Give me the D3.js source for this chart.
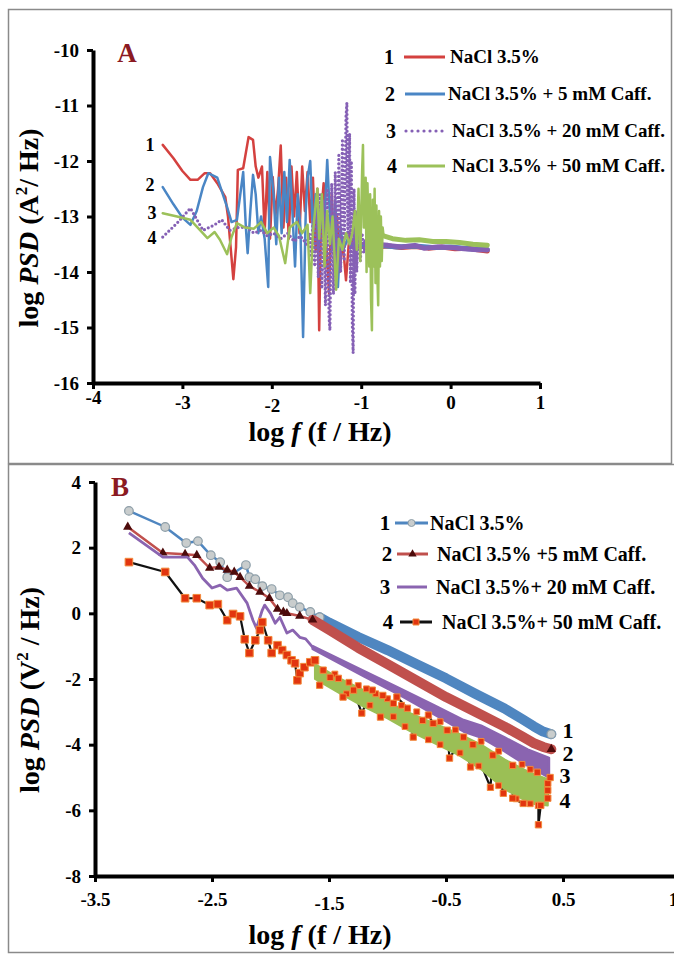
<!DOCTYPE html>
<html>
<head>
<meta charset="utf-8">
<script src="https://cdn.jsdelivr.net/npm/d3@7/dist/d3.min.js"></script>
<style>
  body { margin: 0; background: #fff; }
  svg text { font-family: "Liberation Serif", "Times New Roman", serif; font-weight: bold; fill: #000; }
</style>
</head>
<body>
<svg id="svg" width="674" height="955"></svg>
<script>
// ---- Panel A : log PSD of current noise ----
const aXTicks = [-4, -3, -2, -1, 0, 1];
const aYTicks = [-10, -11, -12, -13, -14, -15, -16];
const aLegend = ["NaCl 3.5%", "NaCl 3.5% + 5 mM Caff.", "NaCl 3.5% + 20 mM Caff.", "NaCl 3.5% + 50 mM Caff."];

const aNaCl = [[-3.22,-11.71],[-3.1,-11.95],[-3.0,-12.18],[-2.91,-12.34],[-2.83,-12.34],[-2.75,-12.22],[-2.69,-12.22],[-2.61,-12.4],
  [-2.52,-12.65],[-2.49,-13.0],[-2.43,-14.13],[-2.4,-13.55],[-2.38,-12.16],[-2.32,-12.13],[-2.26,-11.57],[-2.21,-11.62],[-2.18,-12.1],
  [-2.15,-12.3],[-2.11,-12.1],[-2.08,-13.3],[-2.05,-12.2],[-2.02,-13.4],[-1.99,-12.29],[-1.96,-13.0],[-1.93,-12.5],[-1.9,-11.72],
  [-1.87,-13.2],[-1.84,-12.3],[-1.81,-13.4],[-1.78,-12.1],[-1.75,-13.0],[-1.72,-12.2],[-1.69,-13.3],[-1.66,-12.1],[-1.63,-12.9],
  [-1.6,-12.2],[-1.57,-13.1],[-1.54,-12.3],[-1.51,-13.6],[-1.49,-12.5],[-1.47,-15.05],[-1.45,-13.0],[-1.42,-12.4],[-1.39,-13.5],
  [-1.36,-14.38],[-1.33,-12.6],[-1.3,-13.8],[-1.27,-13.0],[-1.24,-14.0],[-1.21,-13.4],[-1.17,-14.15],[-1.13,-13.3],[-1.08,-13.6],[-1.0,-13.5]];
const aNaClTail = [[-1.0,-13.5],[-0.85,-13.55],[-0.7,-13.53],[-0.55,-13.56],[-0.4,-13.54],[-0.25,-13.57],[-0.1,-13.55],[0.05,-13.58],[0.2,-13.57],[0.3,-13.6],[0.41,-13.62]];

const a5mM = [[-3.22,-12.47],[-3.1,-12.78],[-3.0,-13.02],[-2.91,-13.15],[-2.84,-12.9],[-2.77,-12.47],[-2.71,-12.22],[-2.61,-12.3],
  [-2.5,-12.83],[-2.45,-13.1],[-2.39,-13.06],[-2.32,-12.2],[-2.29,-13.2],[-2.27,-13.66],[-2.24,-12.9],[-2.21,-12.25],[-2.18,-12.6],
  [-2.15,-13.3],[-2.12,-13.0],[-2.08,-13.4],[-2.04,-14.27],[-2.02,-11.93],[-1.98,-12.6],[-1.95,-13.5],[-1.92,-12.3],[-1.89,-13.3],
  [-1.86,-12.2],[-1.83,-13.1],[-1.8,-11.98],[-1.77,-12.9],[-1.74,-13.9],[-1.71,-12.6],[-1.68,-13.2],[-1.65,-15.17],[-1.62,-12.9],
  [-1.6,-12.3],[-1.57,-12.0],[-1.54,-13.3],[-1.51,-12.6],[-1.48,-13.6],[-1.45,-12.8],[-1.42,-13.4],[-1.38,-11.98],[-1.35,-13.0],
  [-1.32,-13.6],[-1.29,-12.7],[-1.26,-14.27],[-1.23,-13.2],[-1.2,-13.6],[-1.15,-13.4],[-1.1,-13.55],[-1.0,-13.5]];
const a5mMTail = [[-1.0,-13.5],[-0.8,-13.52],[-0.6,-13.55],[-0.4,-13.53],[-0.2,-13.56],[0,-13.55],[0.2,-13.58],[0.41,-13.6]];

const a20mM = [[-3.22,-13.37],[-3.06,-13.12],[-2.91,-12.85],[-2.84,-13.05],[-2.77,-13.25],[-2.64,-13.15],[-2.56,-13.06],[-2.47,-13.25],
  [-2.38,-13.2],[-2.28,-13.19],[-2.2,-13.3],[-2.12,-13.25],[-2.05,-13.35],[-1.98,-13.3],[-1.9,-13.4],[-1.82,-13.3],[-1.75,-13.45],
  [-1.68,-13.35],[-1.61,-13.5],[-1.58,-13.3],[-1.56,-13.7],[-1.54,-13.1],[-1.52,-13.9],[-1.5,-12.8],[-1.48,-14.1],[-1.46,-12.6],
  [-1.44,-14.3],[-1.42,-12.7],[-1.4,-14.6],[-1.38,-12.5],[-1.36,-14.8],[-1.35,-15.05],[-1.33,-12.4],[-1.31,-14.4],[-1.29,-12.2],
  [-1.27,-14.1],[-1.25,-11.9],[-1.23,-14.0],[-1.21,-11.6],[-1.19,-13.8],[-1.17,-11.2],[-1.16,-10.95],[-1.15,-13.4],[-1.13,-11.5],
  [-1.12,-14.2],[-1.11,-12.0],[-1.1,-14.9],[-1.09,-15.46],[-1.08,-12.5],[-1.07,-14.4],[-1.06,-12.9],[-1.05,-14.0],[-1.03,-13.1],
  [-1.01,-13.8],[-0.99,-13.3],[-0.97,-13.65],[-0.95,-13.45]];
const a20mMTail = [[-0.95,-13.45],[-0.85,-13.5],[-0.7,-13.52],[-0.55,-13.55],[-0.4,-13.52],[-0.3,-13.57],[-0.15,-13.55],[0,-13.56],[0.15,-13.58],[0.3,-13.6],[0.41,-13.6]];

const a50mM = [[-3.22,-12.94],[-3.06,-13.0],[-2.91,-13.06],[-2.8,-13.25],[-2.72,-13.39],[-2.64,-13.28],[-2.58,-13.42],[-2.5,-13.68],
  [-2.45,-13.37],[-2.39,-13.12],[-2.3,-13.2],[-2.2,-13.22],[-2.12,-13.1],[-2.05,-13.3],[-1.98,-13.2],[-1.92,-13.35],[-1.85,-13.84],
  [-1.8,-13.2],[-1.72,-13.1],[-1.66,-13.3],[-1.6,-13.15],[-1.57,-14.38],[-1.54,-13.3],[-1.51,-12.8],[-1.49,-12.5],[-1.47,-13.4],
  [-1.44,-12.6],[-1.41,-13.9],[-1.38,-12.9],[-1.35,-13.5],[-1.32,-13.0],[-1.28,-14.32],[-1.25,-13.4],[-1.21,-13.6],[-1.17,-13.3],
  [-1.13,-13.5],[-1.1,-13.3],[-1.07,-12.9],[-1.05,-13.6],[-1.03,-12.5],[-1.01,-13.8],[-0.99,-12.2],[-0.98,-11.71],[-0.97,-13.2],
  [-0.95,-12.3],[-0.94,-14.0],[-0.93,-12.4],[-0.91,-13.9],[-0.9,-12.6],[-0.89,-14.5],[-0.88,-15.05],[-0.87,-12.7],[-0.86,-13.9],
  [-0.85,-12.5],[-0.84,-14.2],[-0.83,-12.8],[-0.82,-14.0],[-0.81,-14.6],[-0.8,-12.9],[-0.79,-13.9],[-0.78,-13.0],[-0.77,-13.8],
  [-0.76,-13.2],[-0.75,-13.35]];
const a50mMTail = [[-0.75,-13.35],[-0.65,-13.4],[-0.5,-13.43],[-0.35,-13.42],[-0.2,-13.45],[-0.05,-13.45],[0.1,-13.47],[0.25,-13.5],[0.41,-13.52]];

// ---- Panel B : log PSD of potential noise ----
const bXTicks = [-3.5, -2.5, -1.5, -0.5, 0.5, 1.5];
const bYTicks = [4, 2, 0, -2, -4, -6, -8];
const bLegend = ["NaCl 3.5%", "NaCl 3.5% +5 mM Caff.", "NaCl 3.5%+ 20 mM Caff.", "NaCl 3.5%+ 50 mM Caff."];

const bNaCl = [[-3.21,3.12],[-2.9,2.63],[-2.72,2.14],[-2.62,2.2],[-2.51,1.77],[-2.43,1.56],[-2.37,1.1],[-2.21,1.47],[-2.18,1.1],
  [-2.13,1.04],[-2.07,0.83],[-1.99,0.74],[-1.92,0.55],[-1.85,0.49],[-1.81,0.31],[-1.75,0.19],[-1.66,0.04],[-1.58,-0.12]];
const bNaClBand = [[-1.58,-0.12],[-1.5,-0.28],[-1.25,-0.72],[-1.0,-1.12],[-0.75,-1.55],[-0.5,-1.98],[-0.25,-2.45],[0,-2.9],
  [0.15,-3.22],[0.25,-3.44],[0.33,-3.6],[0.4,-3.68]];

const b5mM = [[-3.22,2.63],[-2.92,1.84],[-2.73,1.8],[-2.63,1.77],[-2.52,1.38],[-2.44,1.41],[-2.37,1.32],[-2.31,1.26],[-2.26,1.1],
  [-2.18,0.83],[-2.09,0.65],[-2.01,0.46],[-1.94,0.13],[-1.89,0.04],[-1.86,0.0],[-1.75,-0.08],[-1.64,-0.2]];
const b5mMBand = [[-1.64,-0.2],[-1.5,-0.5],[-1.25,-1.05],[-1.0,-1.55],[-0.75,-2.05],[-0.5,-2.55],[-0.25,-3.0],[0,-3.45],
  [0.15,-3.75],[0.25,-3.95],[0.33,-4.07],[0.4,-4.14]];

const b20mM = [[-3.21,2.45],[-2.92,1.71],[-2.71,1.71],[-2.65,1.47],[-2.58,1.07],[-2.5,0.77],[-2.43,0.86],[-2.37,0.71],[-2.29,0.77],
  [-2.2,0.31],[-2.15,-0.21],[-2.12,-0.45],[-2.07,0.1],[-2.05,0.25],[-2.0,0.0],[-1.96,-0.3],[-1.92,-0.12],[-1.86,-0.6],[-1.81,-0.51],
  [-1.75,-0.73],[-1.7,-0.78],[-1.64,-1.03]];
const b20mMUpper = [[-1.64,-1.0],[-1.2,-1.76],[-0.9,-2.28],[-0.6,-2.8],[-0.35,-3.25],[-0.2,-3.42],[0,-3.78],[0.2,-4.15],[0.38,-4.4]];
const b20mMLower = [[-1.64,-1.08],[-1.2,-1.92],[-0.9,-2.48],[-0.6,-3.08],[-0.35,-3.6],[-0.2,-3.78],[0,-4.2],[0.2,-4.65],[0.38,-5.0]];

const b50mM = [[-3.21,1.56],[-2.9,1.26],[-2.73,0.46],[-2.63,0.46],[-2.52,0.25],[-2.45,0.28],[-2.37,-0.21],[-2.32,-0.02],[-2.26,-0.09],
  [-2.22,-0.79],[-2.18,-1.21],[-2.13,-0.82],[-2.09,-0.51],[-2.07,-0.27],[-2.02,-0.82],[-1.99,-1.21],[-1.94,-0.97],[-1.9,-1.12],
  [-1.86,-1.27],[-1.82,-1.43],[-1.79,-1.52],[-1.77,-2.04],[-1.75,-1.82],[-1.71,-1.64],[-1.66,-1.49],[-1.62,-1.43],[-1.58,-2.19],
  [-1.55,-1.73],[-1.49,-1.95],[-1.42,-1.98],[-1.38,-2.55],[-1.29,-2.34],[-1.22,-3.04],[-1.13,-2.34],[-1.06,-3.16],[-1.04,-2.5],
  [-0.95,-2.74],[-0.92,-2.55],[-0.83,-2.89],[-0.78,-3.77],[-0.7,-3.26],[-0.65,-3.1],[-0.61,-3.35],[-0.49,-3.56],[-0.47,-4.41],
  [-0.35,-3.77],[-0.29,-4.68],[-0.27,-4.0],[-0.12,-5.3],[-0.1,-4.32],[-0.01,-5.48],[0.07,-4.63],[0.07,-5.63],[0.16,-5.79],
  [0.28,-4.84],[0.29,-5.85],[0.29,-6.44],[0.31,-5.85],[0.37,-5.63],[0.37,-5.39],[0.37,-5.18],[0.39,-5.0]];
// extra markers seen packed along the edges of the dense green band
const b50mMEdge = [[-1.45,-1.85],[-1.33,-2.1],[-1.25,-2.2],[-1.18,-2.3],[-1.1,-2.45],[-1.0,-2.6],[-0.88,-2.8],[-0.75,-3.0],
  [-0.55,-3.3],[-0.42,-3.55],[-0.2,-3.9],[-0.05,-4.2],[0.15,-4.6],[0.22,-4.75],[-1.35,-2.45],[-1.15,-2.8],[-0.95,-3.15],
  [-0.85,-3.45],[-0.65,-3.85],[-0.55,-4.0],[-0.38,-4.25],[-0.22,-4.65],[-0.05,-5.25],[0.1,-5.65],[0.22,-5.8]];
const b50mMUpper = [[-1.62,-1.55],[-1.4,-2.0],[-1.2,-2.35],[-1.0,-2.7],[-0.8,-3.05],[-0.6,-3.35],[-0.4,-3.65],[-0.2,-4.0],[0,-4.45],[0.22,-4.85],[0.37,-5.05]];
const b50mMLower = [[-1.62,-2.0],[-1.4,-2.45],[-1.2,-2.85],[-1.0,-3.2],[-0.8,-3.6],[-0.6,-3.95],[-0.4,-4.3],[-0.2,-4.75],[0,-5.35],[0.22,-5.79],[0.37,-5.85]];

const colA = { red: "#d4413f", blue: "#4a86c5", purple: "#8560b5", green: "#9cc15a" };
const colB = { blue: "#4f86c0", red: "#c0504d", purple: "#8a64b0", green: "#9bbf55", black: "#111", tri: "#4d0b0b",
  sq: "#e2350f", sqEdge: "#f28a3c", circ: "#c9cdcd", circEdge: "#8d9ea8" };

let svg = d3.select("svg");

// panel frames
svg.append("rect").attr("x", 8.5).attr("y", 9.5).attr("width", 663).attr("height", 454)
  .attr("fill", "none").attr("stroke", "#8a8a8a").attr("stroke-width", 1.5);
svg.append("rect").attr("x", 8.5).attr("y", 464.5).attr("width", 700).attr("height", 488)
  .attr("fill", "none").attr("stroke", "#8a8a8a").attr("stroke-width", 1.5);

function styleAxis(sel) {
  sel.attr("font-family", null);
  sel.select(".domain").attr("stroke", "#000").attr("stroke-width", 4);
  sel.selectAll(".tick line").attr("stroke", "#000").attr("stroke-width", 3);
  sel.selectAll(".tick text").attr("font-size", 19).attr("fill", "#000");
}

function axes(x, y, xTicks, yTicks, padX, xJitter) {
  let gx = svg.append("g")
    .attr("transform", "translate(0," + y.range()[0] + ")")
    .call(d3.axisBottom(x).tickValues(xTicks).tickSize(6).tickSizeOuter(0).tickPadding(padX).tickFormat(d => String(d)));
  styleAxis(gx);
  gx.selectAll(".tick text").attr("y", d => padX + 6 + (xJitter[d] || 0));
  let gy = svg.append("g")
    .attr("transform", "translate(" + x.range()[0] + ",0)")
    .call(d3.axisLeft(y).tickValues(yTicks).tickSize(6).tickSizeOuter(0).tickPadding(8).tickFormat(d => String(d)));
  styleAxis(gy);
}

function titles(cx, cy, tx, ty, unit) {
  let t = svg.append("text").attr("transform", "translate(" + cx + "," + cy + ") rotate(-90)")
    .attr("text-anchor", "middle").attr("font-size", 28);
  t.append("tspan").text("log ");
  t.append("tspan").attr("font-style", "italic").text("PSD");
  t.append("tspan").text(" (" + unit);
  t.append("tspan").attr("font-size", 17).attr("dy", -11).text("2");
  t.append("tspan").attr("dy", 11).text(unit == "A" ? "/ Hz)" : " / Hz)");
  let b = svg.append("text").attr("x", tx).attr("y", ty).attr("text-anchor", "middle").attr("font-size", 28);
  b.append("tspan").text("log ");
  b.append("tspan").attr("font-style", "italic").text("f");
  b.append("tspan").text(" (f / Hz)");
}

// ================= Panel A =================
let xA = d3.scaleLinear().domain([-4, 1]).range([93, 540]);
let yA = d3.scaleLinear().domain([-16, -10]).range([383, 50]);
let lineA = d3.line().x(d => xA(d[0])).y(d => yA(d[1]));

axes(xA, yA, aXTicks, aYTicks, 7, { "-4": -5, "-3": 0, "-2": 3 });
titles(38, 228, 320, 441, "A");

svg.append("text").attr("x", 127).attr("y", 62).attr("text-anchor", "middle")
  .attr("font-size", 27).style("fill", "#8b1a22").text("A");

let aSeries = [
  { main: aNaCl, tail: aNaClTail, color: colA.red },
  { main: a5mM, tail: a5mMTail, color: colA.blue },
  { main: a20mM, tail: a20mMTail, color: colA.purple, dotted: true },
  { main: a50mM, tail: a50mMTail, color: colA.green }
];
aSeries.forEach(s => {
  [s.main, s.tail].forEach((arr, k) => {
    let p = svg.append("path").datum(arr)
      .attr("fill", "none").attr("stroke", s.color)
      .attr("stroke-linejoin", "round").attr("stroke-linecap", "round")
      .attr("stroke-width", k ? 5 : 2.5).attr("d", lineA);
    if (s.dotted && !k) p.attr("stroke-width", 3.2).attr("stroke-dasharray", "0 4.2");
  });
});

// curve numbers
[["1", 150, 151], ["2", 150, 191], ["3", 152, 219], ["4", 152, 244]].forEach(l => {
  svg.append("text").attr("x", l[1]).attr("y", l[2]).attr("text-anchor", "middle").attr("font-size", 18).text(l[0]);
});

// legend A
let legA = svg.append("g");
let legARows = [57, 94, 131, 166];
aLegend.forEach((name, i) => {
  let y = legARows[i];
  legA.append("text").attr("x", 389 + i).attr("y", y + 7).attr("text-anchor", "middle").attr("font-size", 20).text(i + 1);
  let ln = legA.append("line").attr("x1", 404 + i).attr("x2", 445).attr("y1", y).attr("y2", y)
    .attr("stroke", aSeries[i].color).attr("stroke-width", 3);
  if (aSeries[i].dotted) ln.attr("stroke-dasharray", "0 6").attr("stroke-linecap", "round").attr("stroke-width", 3.2);
  legA.append("text").attr("x", i == 0 ? 450 : (i == 1 ? 448 : 452)).attr("y", y + 6).attr("font-size", 19).text(name);
});

// ================= Panel B =================
let xB = d3.scaleLinear().domain([-3.5, 1.5]).range([95, 680]);
let yB = d3.scaleLinear().domain([-8, 4]).range([876, 482]);
let lineB = d3.line().x(d => xB(d[0])).y(d => yB(d[1]));
let bandB = (up, lo) => d3.area().x(d => xB(d[0])).y0((d, i) => yB(lo[i][1])).y1(d => yB(d[1]))(up);

axes(xB, yB, bXTicks, bYTicks, 11, { "-1.5": 4 });
titles(39, 690, 320, 944, "V");

svg.append("text").attr("x", 120).attr("y", 496).attr("text-anchor", "middle")
  .attr("font-size", 27).style("fill", "#8b1a22").text("B");

const circ = (g, pts) => g.selectAll(null).data(pts).enter().append("circle")
  .attr("cx", d => xB(d[0])).attr("cy", d => yB(d[1])).attr("r", 4.3)
  .attr("fill", colB.circ).attr("stroke", colB.circEdge).attr("stroke-width", 1.2);
const tri = (g, pts) => g.selectAll(null).data(pts).enter().append("path")
  .attr("d", d3.symbol(d3.symbolTriangle, 38)).attr("fill", colB.tri)
  .attr("transform", d => "translate(" + xB(d[0]) + "," + yB(d[1]) + ")");
const sq = (g, pts, size) => g.selectAll(null).data(pts).enter().append("path")
  .attr("d", d3.symbol(d3.symbolSquare, size)).attr("fill", colB.sq).attr("stroke", colB.sqEdge).attr("stroke-width", 1)
  .attr("transform", d => "translate(" + xB(d[0]) + "," + yB(d[1]) + ")");

let gB = svg.append("g");
// 1
gB.append("path").datum(bNaCl.concat(bNaClBand.slice(0, 2))).attr("fill", "none").attr("stroke", colB.blue).attr("stroke-width", 2.5).attr("d", lineB);
gB.append("path").datum(bNaClBand).attr("fill", "none").attr("stroke", colB.blue).attr("stroke-width", 10)
  .attr("stroke-linecap", "round").attr("stroke-linejoin", "round").attr("d", lineB);
circ(gB, bNaCl.concat([bNaClBand[bNaClBand.length - 1]]));
// 2
gB.append("path").datum(b5mM).attr("fill", "none").attr("stroke", colB.red).attr("stroke-width", 2.5).attr("d", lineB);
gB.append("path").datum(b5mMBand).attr("fill", "none").attr("stroke", colB.red).attr("stroke-width", 10)
  .attr("stroke-linecap", "round").attr("stroke-linejoin", "round").attr("d", lineB);
tri(gB, b5mM.concat([b5mMBand[b5mMBand.length - 1]]));
// 3
gB.append("path").datum(b20mM).attr("fill", "none").attr("stroke", colB.purple).attr("stroke-width", 2.8)
  .attr("stroke-linejoin", "round").attr("d", lineB);
gB.append("path").attr("d", bandB(b20mMUpper, b20mMLower)).attr("fill", colB.purple)
  .attr("stroke", colB.purple).attr("stroke-width", 2.5).attr("stroke-linejoin", "round");
// 4
gB.append("path").datum(b50mM).attr("fill", "none").attr("stroke", colB.black).attr("stroke-width", 2.2)
  .attr("stroke-linejoin", "round").attr("d", lineB);
gB.append("path").attr("d", bandB(b50mMUpper, b50mMLower)).attr("fill", colB.green)
  .attr("stroke", colB.green).attr("stroke-width", 2).attr("stroke-linejoin", "round");
sq(gB, b50mM.filter(d => d[0] < -1.6), 58);
sq(gB, b50mMEdge, 34);
sq(gB, b50mM.filter(d => d[0] >= -1.6), 40);

// curve numbers
[["1", 568, 738], ["2", 568, 761], ["3", 565, 783], ["4", 565, 808]].forEach(l => {
  svg.append("text").attr("x", l[1]).attr("y", l[2]).attr("text-anchor", "middle").attr("font-size", 22).text(l[0]);
});

// legend B
let legB = svg.append("g");
let legBRows = [523, 554, 587, 622];
let legBNum = [385, 387, 385, 388];
let legBLine = [[395, 428], [397, 428], [397, 427], [400, 432]];
let legBText = [430, 437, 436, 442];
let legBCol = [colB.blue, colB.red, colB.purple, colB.black];
bLegend.forEach((name, i) => {
  let y = legBRows[i];
  legB.append("text").attr("x", legBNum[i]).attr("y", y + 7).attr("text-anchor", "middle").attr("font-size", 21).text(i + 1);
  legB.append("line").attr("x1", legBLine[i][0]).attr("x2", legBLine[i][1]).attr("y1", y).attr("y2", y)
    .attr("stroke", legBCol[i]).attr("stroke-width", 3);
  let mx = (legBLine[i][0] + legBLine[i][1]) / 2;
  let mk = legB.append("g");
  if (i == 0) mk.append("circle").attr("cx", mx).attr("cy", y).attr("r", 3.5).attr("fill", colB.circ).attr("stroke", colB.circEdge);
  if (i == 1) mk.append("path").attr("d", d3.symbol(d3.symbolTriangle, 30)).attr("fill", colB.tri).attr("transform", "translate(" + mx + "," + y + ")");
  if (i == 3) mk.append("path").attr("d", d3.symbol(d3.symbolSquare, 36)).attr("fill", colB.sq).attr("stroke", colB.sqEdge).attr("transform", "translate(" + mx + "," + y + ")");
  legB.append("text").attr("x", legBText[i]).attr("y", y + 7).attr("font-size", 20).text(name);
});
</script>
</body>
</html>
